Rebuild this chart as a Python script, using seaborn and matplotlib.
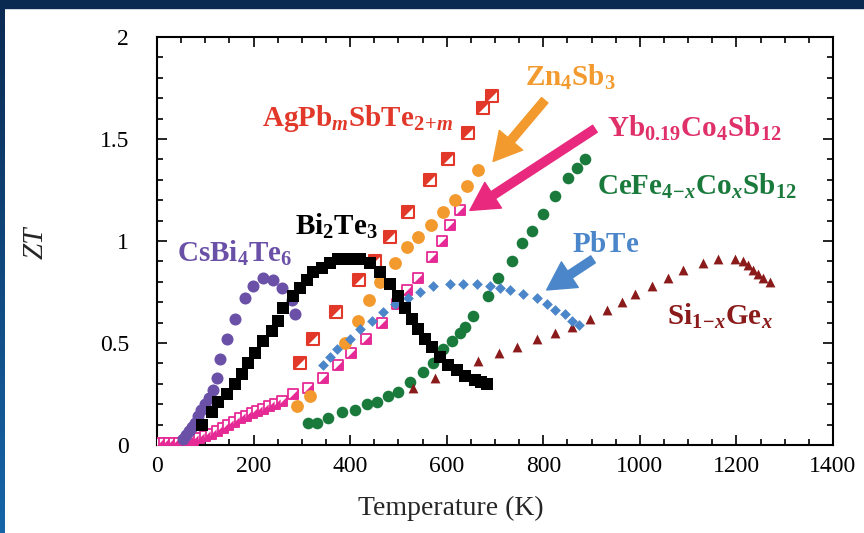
import numpy as np
import seaborn as sns
import matplotlib.pyplot as plt
from matplotlib.markers import MarkerStyle
from matplotlib.patches import Rectangle
from matplotlib.ticker import MultipleLocator, FormatStrFormatter

# ZT versus temperature for several thermoelectric materials
cs_t = [54, 60, 66, 72, 78, 85, 92, 100, 108, 116, 124, 130, 145, 161, 182, 199, 219, 240, 259, 279, 286]
cs_zt = [0.03, 0.05, 0.07, 0.09, 0.11, 0.14, 0.17, 0.20, 0.23, 0.27, 0.33, 0.42, 0.52, 0.62, 0.72, 0.78,
         0.82, 0.81, 0.77, 0.71, 0.64]

bi_t = [93, 114, 126, 145, 161, 176, 188, 203, 219, 238, 251, 261, 282, 296, 311, 323, 342, 358, 375, 400,
        420, 441, 462, 482, 499, 513, 528, 540, 555, 569, 586, 602, 621, 638, 658, 670, 683]
bi_zt = [0.10, 0.16, 0.21, 0.25, 0.30, 0.35, 0.40, 0.45, 0.51, 0.56, 0.61, 0.67, 0.73, 0.77, 0.81, 0.85,
         0.87, 0.89, 0.91, 0.91, 0.91, 0.89, 0.85, 0.79, 0.73, 0.67, 0.62, 0.57, 0.52, 0.48, 0.43, 0.39,
         0.37, 0.34, 0.32, 0.31, 0.30]

ag_t = [296, 323, 371, 418, 451, 482, 520, 565, 602, 644, 675, 694]
ag_zt = [0.40, 0.52, 0.65, 0.81, 0.90, 1.02, 1.14, 1.30, 1.40, 1.53, 1.65, 1.71]

zn_t = [290, 317, 389, 416, 439, 462, 493, 517, 541, 567, 592, 617, 641, 665]
zn_zt = [0.19, 0.24, 0.50, 0.61, 0.71, 0.80, 0.89, 0.97, 1.02, 1.08, 1.14, 1.20, 1.27, 1.35]

yb_t = [5, 15, 25, 35, 45, 55, 65, 75, 88, 100, 112, 124, 136, 148, 160, 172, 184, 196, 208, 220, 232,
        244, 259, 282, 313, 344, 375, 402, 433, 466, 497, 518, 540, 569, 590, 607, 627]
yb_zt = [0.01, 0.01, 0.01, 0.01, 0.01, 0.015, 0.02, 0.025, 0.035, 0.045, 0.055, 0.07, 0.085, 0.10, 0.115,
         0.13, 0.14, 0.155, 0.165, 0.175, 0.19, 0.20, 0.215, 0.25, 0.28, 0.33, 0.39, 0.45, 0.52, 0.60,
         0.69, 0.76, 0.82, 0.92, 1.00, 1.08, 1.15]

ce_t = [313, 331, 354, 383, 410, 435, 455, 478, 499, 524, 551, 571, 592, 611, 627, 638, 654, 685, 706,
        735, 755, 776, 799, 824, 851, 870, 886]
ce_zt = [0.11, 0.11, 0.13, 0.16, 0.17, 0.20, 0.21, 0.24, 0.26, 0.31, 0.36, 0.40, 0.47, 0.51, 0.55, 0.58,
         0.63, 0.73, 0.82, 0.90, 0.99, 1.05, 1.13, 1.22, 1.31, 1.36, 1.40]

pb_t = [344, 358, 373, 400, 420, 445, 468, 493, 520, 544, 571, 607, 634, 662, 689, 710, 731, 758, 786,
        807, 824, 845, 859, 874]
pb_zt = [0.39, 0.43, 0.47, 0.52, 0.57, 0.61, 0.65, 0.69, 0.72, 0.75, 0.78, 0.79, 0.79, 0.79, 0.78, 0.77,
         0.76, 0.74, 0.72, 0.69, 0.66, 0.64, 0.61, 0.59]

si_t = [530, 575, 620, 665, 708, 745, 787, 824, 859, 896, 932, 963, 990, 1025, 1058, 1089, 1130, 1161,
        1197, 1213, 1224, 1234, 1244, 1255, 1269]
si_zt = [0.28, 0.33, 0.37, 0.41, 0.45, 0.48, 0.52, 0.55, 0.58, 0.62, 0.66, 0.70, 0.74, 0.78, 0.82, 0.86,
         0.89, 0.91, 0.91, 0.90, 0.88, 0.86, 0.84, 0.82, 0.80]

PURPLE = '#6a50a7'
RED = '#e2382a'
ORANGE = '#f39a2e'
MAGENTA = '#e62a95'
PINK_TEXT = '#e0306a'
GREEN = '#1a7a3c'
BLUE = '#4a86c9'
DARKRED = '#8b1a1a'

sns.set_style('ticks')
plt.rcParams['font.family'] = ['Liberation Serif', 'DejaVu Serif']
plt.rcParams['mathtext.fontset'] = 'custom'
plt.rcParams['mathtext.rm'] = 'Liberation Serif:bold'
plt.rcParams['mathtext.it'] = 'Liberation Serif:italic:bold'
plt.rcParams['mathtext.bf'] = 'Liberation Serif:bold'

fig = plt.figure(figsize=(8.64, 5.33), dpi=100)
fig.patch.set_facecolor('white')

# dark frame of the slide
fig.patches.append(Rectangle((0, 1 - 8 / 533), 1, 8 / 533, transform=fig.transFigure,
                             color='#0b2a52', zorder=0))
strip = fig.add_axes([0, 0, 5 / 864, 1])
strip.imshow(np.linspace(0, 1, 100).reshape(-1, 1), aspect='auto',
             cmap=sns.blend_palette(['#0b2a52', '#1565a8'], as_cmap=True))
strip.axis('off')

ax = fig.add_axes([157 / 864, 88 / 533, 676 / 864, 408 / 533])

upper_left = MarkerStyle([(-1, -1), (-1, 1), (1, 1), (-1, -1)])
lower_right = MarkerStyle([(-1, -1), (1, -1), (1, 1), (-1, -1)])

# Yb0.19Co4Sb12: open square with lower-right half filled
sns.scatterplot(x=yb_t, y=yb_zt, ax=ax, marker='s', s=55, color='white', edgecolor=MAGENTA,
                linewidth=1.3, zorder=3)
sns.scatterplot(x=yb_t, y=yb_zt, ax=ax, marker=lower_right, s=55, color=MAGENTA, linewidth=0, zorder=3)

# AgPbmSbTe2+m: open square with upper-left half filled
sns.scatterplot(x=ag_t, y=ag_zt, ax=ax, marker='s', s=70, color='white', edgecolor=RED,
                linewidth=1.5, zorder=3)
sns.scatterplot(x=ag_t, y=ag_zt, ax=ax, marker=upper_left, s=70, color=RED, linewidth=0, zorder=3)

sns.scatterplot(x=zn_t, y=zn_zt, ax=ax, marker='o', s=85, color=ORANGE, linewidth=0, zorder=3)
sns.scatterplot(x=ce_t, y=ce_zt, ax=ax, marker='o', s=70, color=GREEN, linewidth=0, zorder=3)
sns.scatterplot(x=si_t, y=si_zt, ax=ax, marker='^', s=50, color=DARKRED, linewidth=0, zorder=3)
sns.scatterplot(x=pb_t, y=pb_zt, ax=ax, marker='D', s=30, color=BLUE, linewidth=0, zorder=4)
sns.scatterplot(x=cs_t, y=cs_zt, ax=ax, marker='o', s=75, color=PURPLE, linewidth=0, zorder=4)
sns.scatterplot(x=bi_t, y=bi_zt, ax=ax, marker='s', s=68, color='black', linewidth=0, zorder=4)

ax.set_xlim(0, 1400)
ax.set_ylim(0, 2)
ax.xaxis.set_major_locator(MultipleLocator(200))
ax.xaxis.set_minor_locator(MultipleLocator(50))
ax.yaxis.set_major_locator(MultipleLocator(0.5))
ax.yaxis.set_minor_locator(MultipleLocator(0.1))
ax.yaxis.set_major_formatter(FormatStrFormatter('%g'))
ax.xaxis.set_major_formatter(FormatStrFormatter('%g'))
ax.tick_params(which='both', direction='in', top=True, right=True, width=1.2, colors='black',
               labelsize=17)
ax.tick_params(which='major', length=7)
ax.tick_params(which='minor', length=4)
ax.tick_params(axis='y', pad=20)
ax.tick_params(axis='x', pad=8)
for sp in ax.spines.values():
    sp.set_linewidth(1.5)
    sp.set_color('black')

ax.set_xlabel('Temperature (K)', fontsize=20)
ax.xaxis.set_label_coords(0.435, -0.125)
ax.set_ylabel('ZT', fontsize=21, fontstyle='italic')
ax.yaxis.set_label_coords(-0.16, 0.495)

# material labels
label_kw = dict(fontsize=21, fontweight='bold', ha='left', va='center')
ax.text(41, 0.94, r'$\mathrm{CsBi_4Te_6}$', color=PURPLE, **label_kw)
ax.text(286, 1.07, r'$\mathrm{Bi_2Te_3}$', color='black', **label_kw)
ax.text(217, 1.60, r'$\mathrm{AgPb}_{m}\mathrm{SbTe}_{2\!+\!m}$', color=RED, **label_kw)
ax.text(762, 1.80, r'$\mathrm{Zn_4Sb_3}$', color=ORANGE, **label_kw)
ax.text(932, 1.55, r'$\mathrm{Yb_{0.19}Co_4Sb_{12}}$', color=PINK_TEXT, **label_kw)
ax.text(911, 1.27, r'$\mathrm{CeFe}_{4\!-\!x}\mathrm{Co}_{x}\mathrm{Sb}_{12}$', color=GREEN, **label_kw)
ax.text(859, 0.985, r'$\mathrm{PbTe}$', color=BLUE, **label_kw)
ax.text(1056, 0.63, r'$\mathrm{Si}_{1\!-\!x}\mathrm{Ge}_{x}$', color=DARKRED, **label_kw)

arrow = 'simple,head_width=1.1,head_length=1.0,tail_width=0.3'
ax.annotate('', xy=(696, 1.39), xytext=(803, 1.69),
            arrowprops=dict(arrowstyle=arrow, color=ORANGE, mutation_scale=20, shrinkA=0, shrinkB=0))
ax.annotate('', xy=(648, 1.15), xytext=(907, 1.55),
            arrowprops=dict(arrowstyle=arrow, color='#e8297e', mutation_scale=20, shrinkA=0, shrinkB=0))
ax.annotate('', xy=(807, 0.76), xytext=(903, 0.91),
            arrowprops=dict(arrowstyle=arrow, color=BLUE, mutation_scale=20, shrinkA=0, shrinkB=0))

fig.savefig('out.png', dpi=100, facecolor='white')
